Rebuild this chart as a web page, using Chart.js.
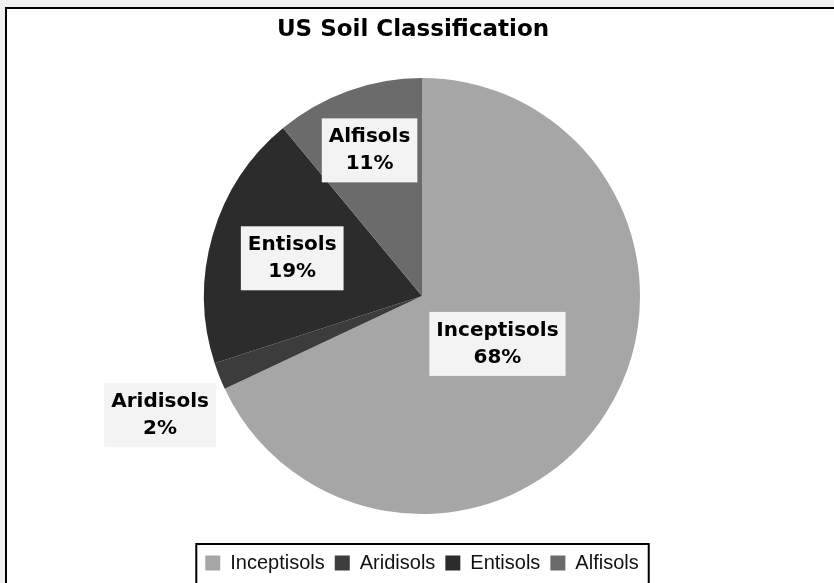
<!DOCTYPE html>
<html>
<head>
<meta charset="utf-8">
<script src="https://cdn.jsdelivr.net/npm/chart.js@4.4.0/dist/chart.umd.min.js"></script>
<style>
  html, body { margin: 0; padding: 0; background: #f0f0f0; width: 834px; height: 583px; overflow: hidden; }
  #frame { position: absolute; left: 5px; top: 7px; width: 900px; height: 700px; border-left: 2px solid #000; border-top: 2px solid #000; background: #fff; }
  #myChart { position: absolute; left: 0; top: 0; }
</style>
</head>
<body>
<div id="frame"></div>
<canvas id="myChart" width="834" height="583"></canvas>
<script>
  const chartTitle = 'US Soil Classification';
  const categories = ['Inceptisols', 'Aridisols', 'Entisols', 'Alfisols'];
  const shares = [68, 2, 19, 11];
  const sliceColors = ['#a6a6a6', '#3c3c3c', '#2c2c2c', '#6b6b6b'];

  // title drawn by hand so it can sit a little left of the pie centre
  const titlePlugin = {
    id: 'titlePlugin',
    afterDraw(chart, args, opts) {
      const ctx = chart.ctx;
      ctx.save();
      ctx.font = opts.font;
      ctx.fillStyle = '#000';
      ctx.textAlign = 'center';
      ctx.textBaseline = 'middle';
      ctx.fillText(opts.text, opts.x, opts.y);
      ctx.restore();
    }
  };

  // "Name / xx%" boxes on each slice
  const sliceLabels = {
    id: 'sliceLabels',
    afterDatasetsDraw(chart, args, opts) {
      const ctx = chart.ctx;
      const meta = chart.getDatasetMeta(0);
      const data = chart.data.datasets[0].data;
      const total = data.reduce((a, b) => a + b, 0);
      ctx.save();
      ctx.font = opts.font;
      ctx.textAlign = 'center';
      ctx.textBaseline = 'middle';
      meta.data.forEach((arc, i) => {
        const p = arc.getProps(['x', 'y', 'startAngle', 'endAngle', 'outerRadius'], true);
        const mid = (p.startAngle + p.endAngle) / 2 + opts.turn[i];
        const f = opts.distance[i];
        const cx = p.x + Math.cos(mid) * p.outerRadius * f;
        const cy = p.y + Math.sin(mid) * p.outerRadius * f;
        const lines = [chart.data.labels[i], Math.round(data[i] / total * 100) + '%'];
        const w = Math.max(...lines.map(t => ctx.measureText(t).width)) + opts.padX * 2;
        const h = lines.length * opts.lineHeight + opts.padY * 2;
        ctx.fillStyle = opts.boxColor;
        ctx.fillRect(cx - w / 2, cy - h / 2, w, h);
        ctx.fillStyle = '#000';
        lines.forEach((t, k) => {
          ctx.fillText(t, cx, cy - h / 2 + opts.padY + opts.lineHeight * (k + 0.5));
        });
      });
      ctx.restore();
    }
  };

  // black frame round the legend
  const legendFrame = {
    id: 'legendFrame',
    afterDraw(chart) {
      const boxes = chart.legend.legendHitBoxes;
      if (!boxes || !boxes.length) return;
      const first = boxes[0];
      const last = boxes[boxes.length - 1];
      const ctx = chart.ctx;
      ctx.save();
      ctx.strokeStyle = '#000';
      ctx.lineWidth = 2;
      const left = first.left - 9;
      const right = last.left + last.width + 10;
      const top = first.top - 9;
      ctx.strokeRect(left, top, right - left, 100);
      ctx.restore();
    }
  };

  const ctx = document.getElementById('myChart').getContext('2d');

  const myChart = new Chart(ctx, {
    type: 'pie',
    data: {
      labels: categories,
      datasets: [{
        data: shares,
        backgroundColor: sliceColors,
        borderWidth: 0
      }]
    },
    plugins: [titlePlugin, sliceLabels, legendFrame],
    options: {
      responsive: false,
      animation: false,
      radius: 218,
      layout: {
        padding: { top: 49, left: 10, right: 0, bottom: 0 }
      },
      plugins: {
        title: { display: false },
        tooltip: { enabled: false },
        legend: {
          position: 'bottom',
          labels: {
            boxWidth: 15,
            boxHeight: 15,
            padding: 10,
            color: '#111',
            font: { family: 'Liberation Sans', size: 20 }
          }
        },
        titlePlugin: {
          text: chartTitle,
          font: 'bold 23px "DejaVu Sans"',
          x: 413,
          y: 30
        },
        sliceLabels: {
          font: 'bold 20px "DejaVu Sans"',
          distance: [0.41, 1.32, 0.62, 0.71],
          turn: [0, -0.05, 0, 0],
          padX: 7,
          padY: 5,
          lineHeight: 27,
          boxColor: '#f3f3f3'
        }
      }
    }
  });
</script>
</body>
</html>
